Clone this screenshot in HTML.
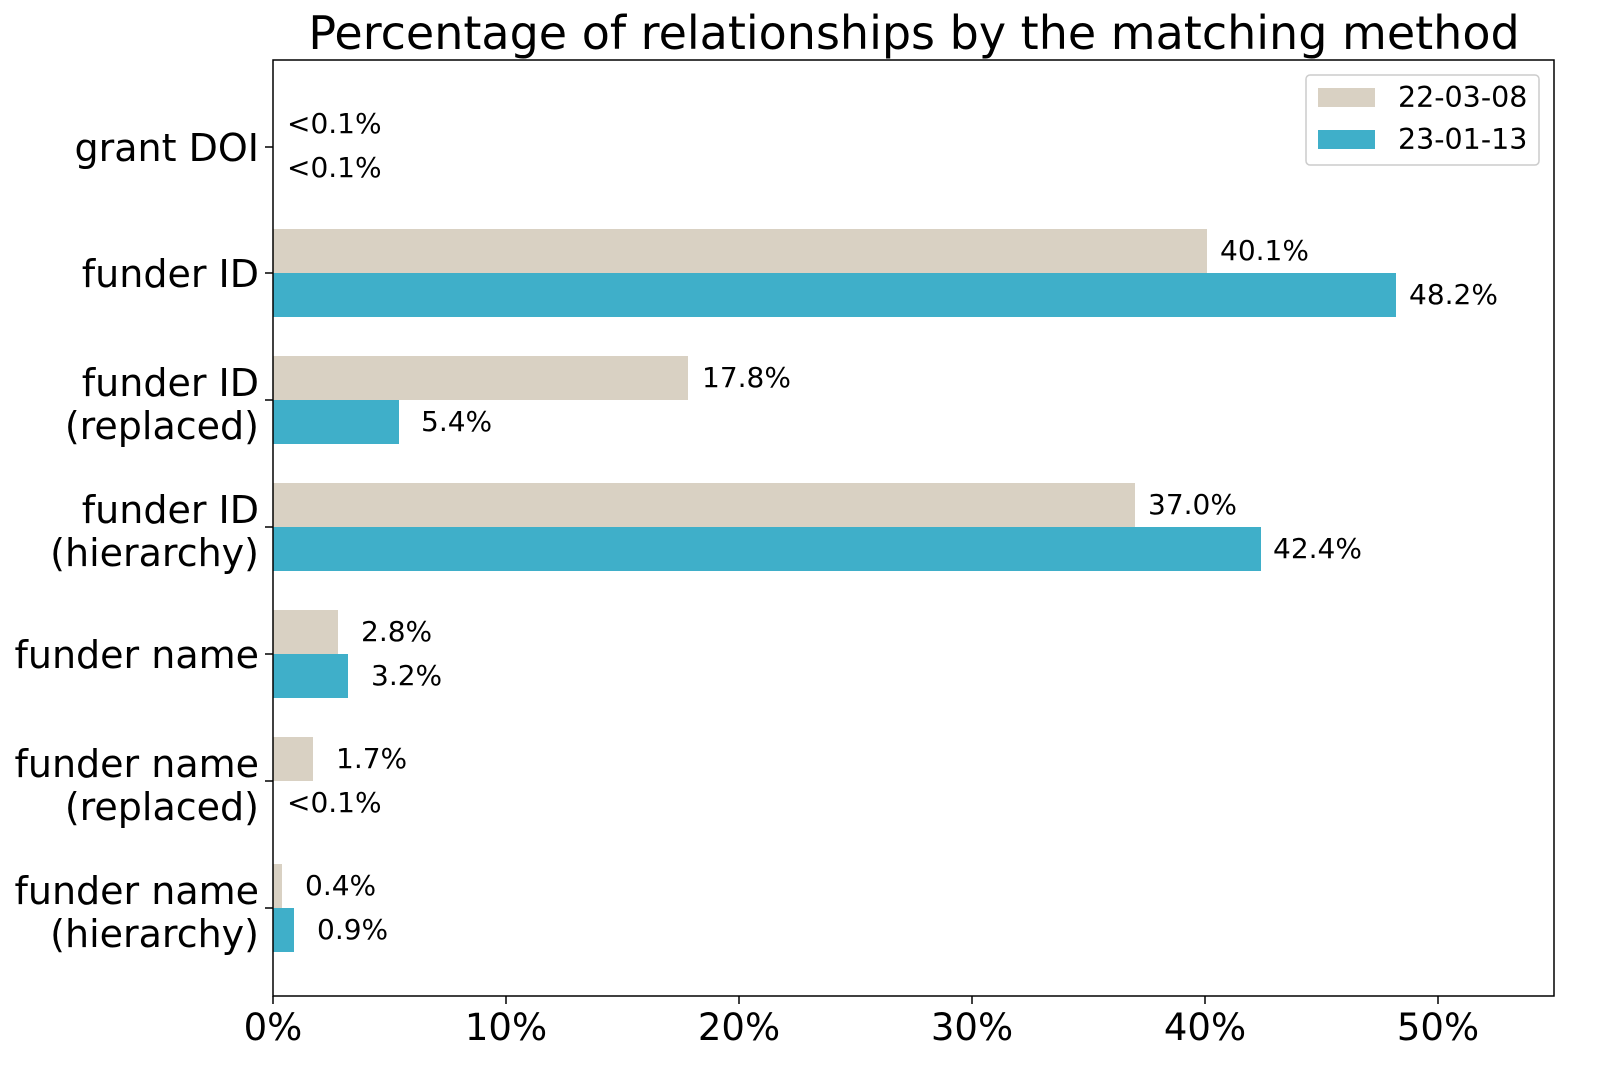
<!DOCTYPE html>
<html><head><meta charset="utf-8"><style>html,body{margin:0;padding:0;background:#fff}svg{display:block}</style></head>
<body>
<svg width="1600" height="1081" xmlns="http://www.w3.org/2000/svg" font-family="DejaVu Sans, Liberation Sans, sans-serif">
<rect width="1600" height="1081" fill="#fff"/>
<text x="914" y="49" font-size="46" text-anchor="middle" fill="#000">Percentage of relationships by the matching method</text>
<g fill="#d9d1c3">
<rect x="273" y="229" width="934" height="44"/>
<rect x="273" y="356" width="415" height="44"/>
<rect x="273" y="483" width="862" height="44"/>
<rect x="273" y="610" width="65" height="44"/>
<rect x="273" y="737" width="40" height="44"/>
<rect x="273" y="864" width="9" height="44"/>
</g>
<g fill="#3fafc9">
<rect x="273" y="273" width="1123" height="44"/>
<rect x="273" y="400" width="126" height="44"/>
<rect x="273" y="527" width="988" height="44"/>
<rect x="273" y="654" width="75" height="44"/>
<rect x="273" y="908" width="21" height="44"/>
</g>
<g font-size="28" fill="#000">
<text x="287" y="133">&lt;0.1%</text>
<text x="287" y="177">&lt;0.1%</text>
<text x="1220" y="260">40.1%</text>
<text x="1409" y="304">48.2%</text>
<text x="702" y="387">17.8%</text>
<text x="421" y="431">5.4%</text>
<text x="1148" y="514">37.0%</text>
<text x="1273" y="558">42.4%</text>
<text x="361" y="641">2.8%</text>
<text x="371" y="685">3.2%</text>
<text x="336" y="768">1.7%</text>
<text x="287" y="812">&lt;0.1%</text>
<text x="305" y="895">0.4%</text>
<text x="317" y="939">0.9%</text>
</g>
<rect x="273" y="60" width="1281" height="936" fill="none" stroke="#000" stroke-width="1.5"/>
<g stroke="#000" stroke-width="1.5">
<line x1="273" y1="996" x2="273" y2="1004"/><line x1="506" y1="996" x2="506" y2="1004"/>
<line x1="739" y1="996" x2="739" y2="1004"/><line x1="972" y1="996" x2="972" y2="1004"/>
<line x1="1205" y1="996" x2="1205" y2="1004"/><line x1="1438" y1="996" x2="1438" y2="1004"/>
<line x1="265" y1="147" x2="273" y2="147"/><line x1="265" y1="273" x2="273" y2="273"/>
<line x1="265" y1="400" x2="273" y2="400"/><line x1="265" y1="527" x2="273" y2="527"/>
<line x1="265" y1="654" x2="273" y2="654"/><line x1="265" y1="781" x2="273" y2="781"/>
<line x1="265" y1="908" x2="273" y2="908"/>
</g>
<g font-size="37" text-anchor="middle" fill="#000">
<text x="273" y="1040">0%</text><text x="506" y="1040">10%</text><text x="739" y="1040">20%</text>
<text x="972" y="1040">30%</text><text x="1205" y="1040">40%</text><text x="1438" y="1040">50%</text>
</g>
<g font-size="38" text-anchor="end" fill="#000">
<text x="259" y="161">grant DOI</text>
<text x="259" y="287">funder ID</text>
<text x="259" y="396">funder ID</text><text x="259" y="439">(replaced)</text>
<text x="259" y="523">funder ID</text><text x="259" y="566">(hierarchy)</text>
<text x="259" y="668">funder name</text>
<text x="259" y="777">funder name</text><text x="259" y="820">(replaced)</text>
<text x="259" y="904">funder name</text><text x="259" y="947">(hierarchy)</text>
</g>
<rect x="1306" y="75" width="233" height="90" rx="4" fill="#fff" stroke="#ccc" stroke-width="1.5"/>
<rect x="1318" y="88" width="57" height="19" fill="#d9d1c3"/>
<rect x="1318" y="130" width="57" height="19" fill="#3fafc9"/>
<g font-size="28.5" fill="#000">
<text x="1398" y="107">22-03-08</text>
<text x="1398" y="149">23-01-13</text>
</g>
</svg>
</body></html>
